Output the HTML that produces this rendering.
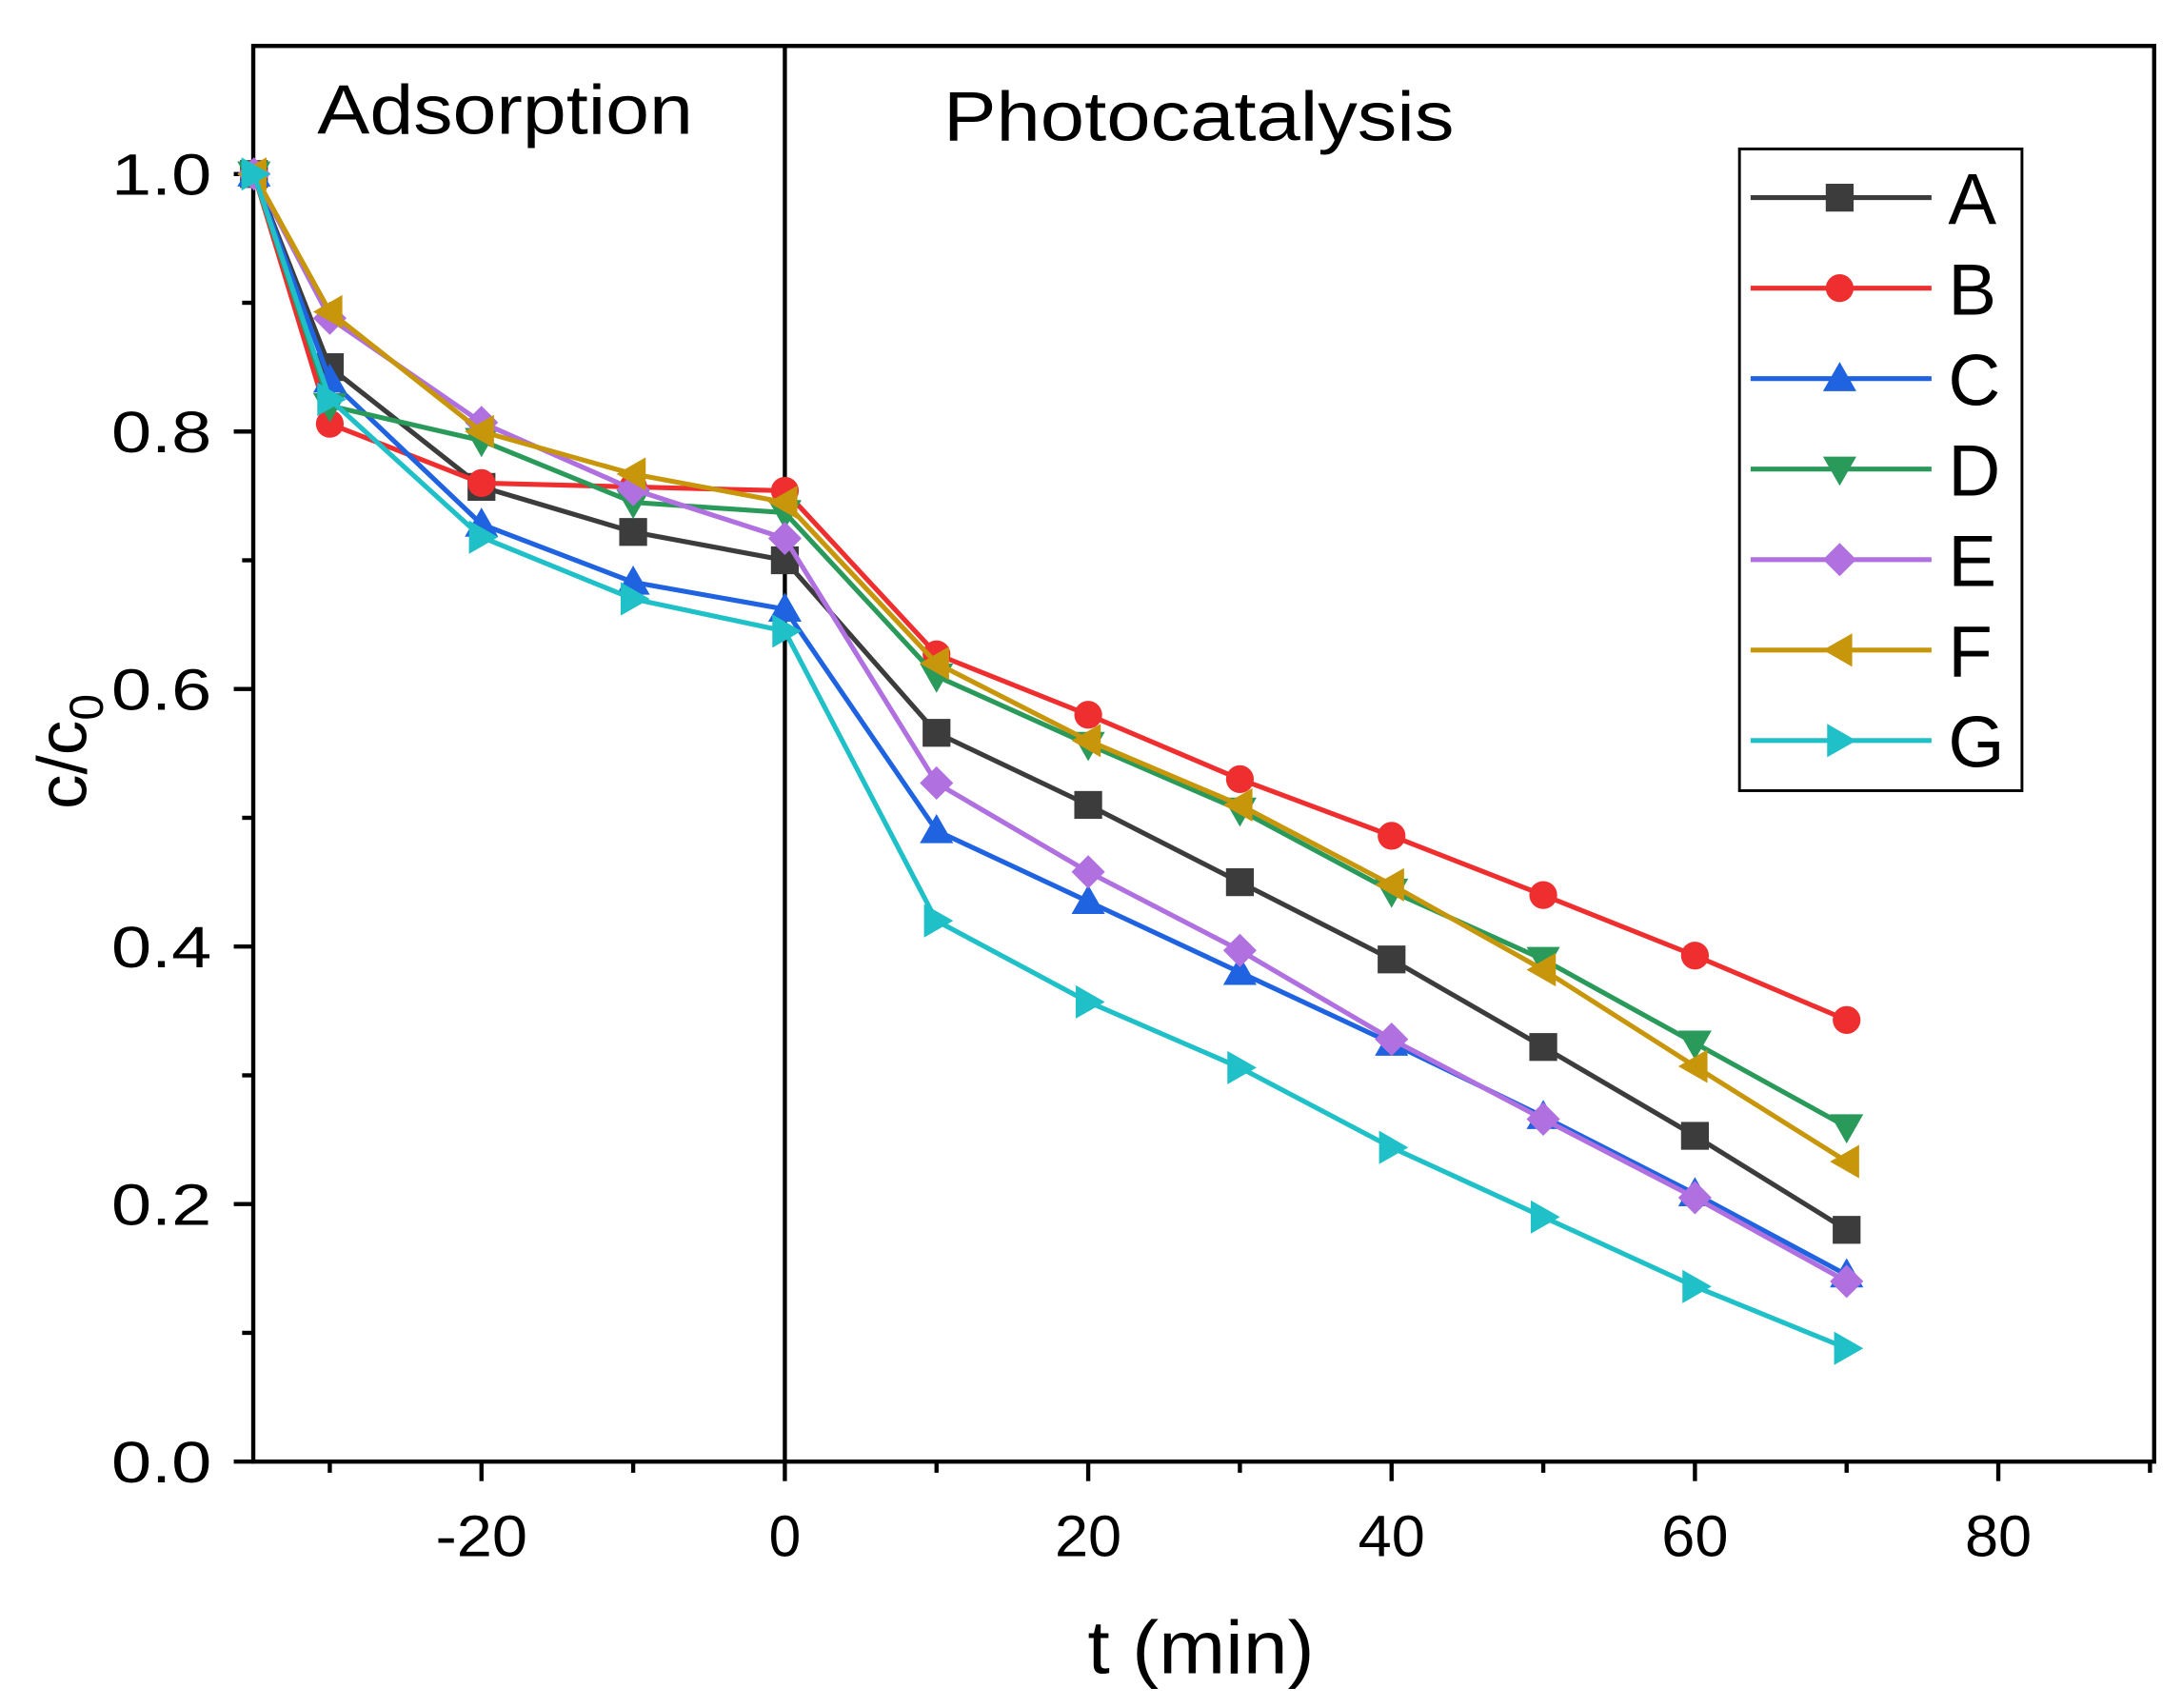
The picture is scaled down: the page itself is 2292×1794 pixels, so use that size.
<!DOCTYPE html>
<html><head><meta charset="utf-8"><style>html,body{margin:0;padding:0;background:#fff}svg{display:block}</style></head>
<body>
<svg width="2292" height="1794" viewBox="0 0 1568 1227" preserveAspectRatio="none" xmlns="http://www.w3.org/2000/svg" font-family="Liberation Sans, Arial, sans-serif">
<text x="0" y="0" font-size="50" text-anchor="middle" fill="#000" transform="translate(62,540) rotate(-90)">c/c<tspan font-size="34" dy="12">0</tspan></text>
<g id="plot"></g>
<script>
(function(){
var NS="http://www.w3.org/2000/svg";
var g=document.getElementById("plot");
function X(v){return 564+v*10.9;}
function Y(v){return 1050-v*925;}
function el(t,a,txt){var e=document.createElementNS(NS,t);for(var k in a)e.setAttribute(k,a[k]);if(txt!==undefined)e.textContent=txt;g.appendChild(e);return e;}
el("rect",{x:182,y:33,width:1366,height:1017,fill:"none",stroke:"#000","stroke-width":3});
el("line",{x1:X(0),y1:33,x2:X(0),y2:1050,stroke:"#000","stroke-width":3});
for(var i=0;i<=10;i++){var y=Y(i/10);var L=(i%2==0)?14:8;el("line",{x1:182-L,y1:y,x2:182,y2:y,stroke:"#000","stroke-width":3});
 if(i%2==0) el("text",{x:152,y:y+15,"font-size":42,"text-anchor":"end",fill:"#000",textLength:72,lengthAdjust:"spacingAndGlyphs"},(i/10).toFixed(1));}
for(var v=-30;v<=90;v+=10){var x=X(v);var L=(v%20==0)?14:8;el("line",{x1:x,y1:1050,x2:x,y2:1050+L,stroke:"#000","stroke-width":3});
 if(v%20==0&&v<=80){var s=String(v);var tl=s.length==1?23:(s.length==2?48:66);
  el("text",{x:x,y:1118,"font-size":42,"text-anchor":"middle",fill:"#000",textLength:tl,lengthAdjust:"spacingAndGlyphs"},s);}}
el("text",{x:863,y:1202,"font-size":54,"text-anchor":"middle",fill:"#000",textLength:163,lengthAdjust:"spacingAndGlyphs"},"t (min)");
el("text",{x:228,y:96,"font-size":50,fill:"#000",textLength:270,lengthAdjust:"spacingAndGlyphs"},"Adsorption");
el("text",{x:678,y:101,"font-size":50,fill:"#000",textLength:367,lengthAdjust:"spacingAndGlyphs"},"Photocatalysis");
var xs=[-35,-30,-20,-10,0,10,20,30,40,50,60,70];
var S=[
["A","#3c3c3c","sq",[1,.85,.757,.722,.70,.566,.51,.45,.39,.322,.253,.18]],
["B","#ef2f2f","ci",[1,.806,.76,.757,.754,.627,.58,.53,.486,.44,.393,.343]],
["C","#1f63e0","up",[1,.84,.728,.683,.662,.49,.435,.38,.325,.268,.208,.145]],
["D","#2a9a5a","dn",[1,.82,.793,.745,.737,.61,.557,.506,.443,.39,.325,.26]],
["E","#b070e0","di",[1,.888,.807,.755,.717,.527,.458,.397,.328,.266,.205,.14]],
["F","#c8960a","lt",[1,.893,.80,.767,.745,.62,.56,.51,.448,.382,.307,.233]],
["G","#20c0c8","rt",[1,.825,.718,.67,.645,.42,.357,.306,.244,.19,.136,.088]]
];
function mk(t,x,y,c){var s=10;
 if(t=="sq")el("rect",{x:x-s,y:y-s,width:2*s,height:2*s,fill:c});
 else if(t=="ci")el("circle",{cx:x,cy:y,r:s,fill:c});
 else{var p;
  if(t=="up")p=[[x,y-12],[x+12,y+9],[x-12,y+9]];
  if(t=="dn")p=[[x,y+12],[x+12,y-9],[x-12,y-9]];
  if(t=="lt")p=[[x-12,y],[x+9,y-12],[x+9,y+12]];
  if(t=="rt")p=[[x+12,y],[x-9,y-12],[x-9,y+12]];
  if(t=="di")p=[[x,y-12],[x+12,y],[x,y+12],[x-12,y]];
  el("polygon",{points:p.map(function(q){return q.join(",")}).join(" "),fill:c});}
}
S.forEach(function(s){var pts=xs.map(function(v,i){return X(v)+","+Y(s[3][i]);}).join(" ");
 el("polyline",{points:pts,fill:"none",stroke:s[1],"stroke-width":3.5});
 xs.forEach(function(v,i){mk(s[2],X(v),Y(s[3][i]),s[1]);});});
el("rect",{x:1250,y:107,width:203,height:461,fill:"#fff",stroke:"#000","stroke-width":2});
S.forEach(function(s,i){var y=142+i*65;
 el("line",{x1:1258,y1:y,x2:1388,y2:y,stroke:s[1],"stroke-width":3.5});
 mk(s[2],1322,y,s[1]);
 el("text",{x:1400,y:y+19,"font-size":52,fill:"#000"},s[0]);});
})();
</script>
</svg>
</body></html>
